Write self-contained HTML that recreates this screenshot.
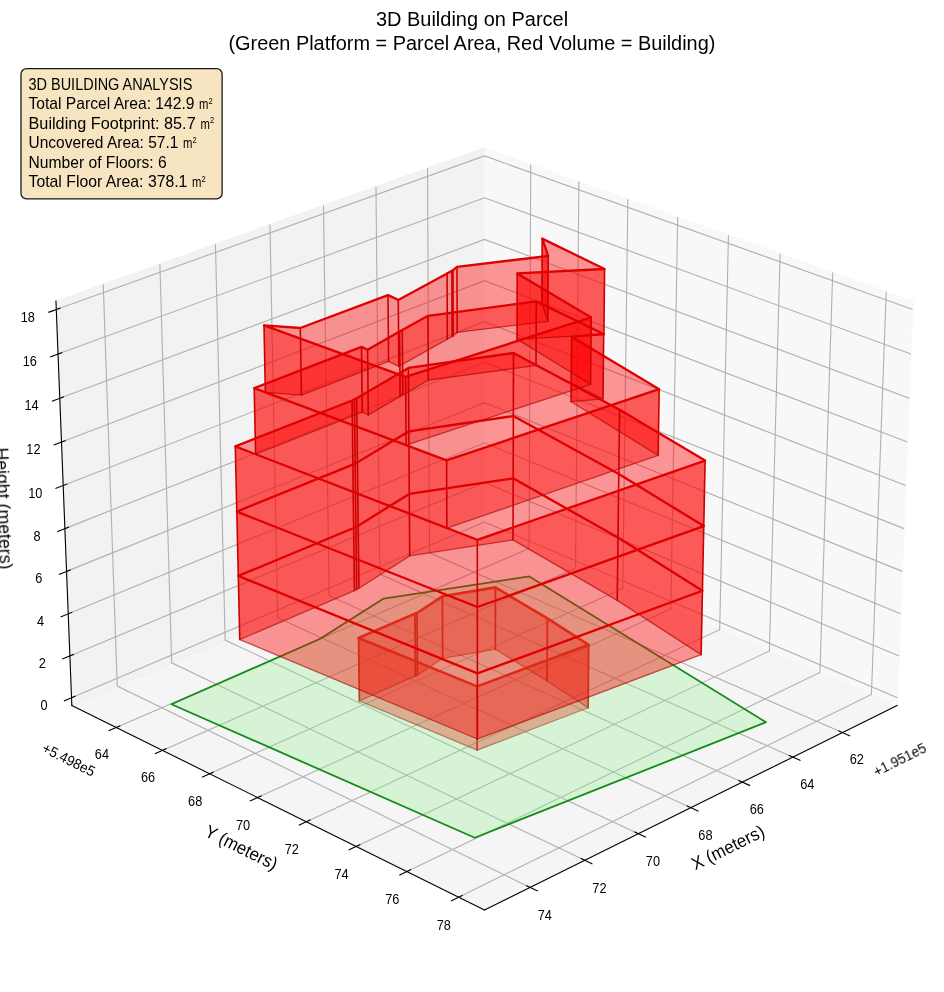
<!DOCTYPE html>
<html><head><meta charset="utf-8"><title>3D Building on Parcel</title>
<style>
html,body{margin:0;padding:0;background:#fff;}
body{width:944px;height:992px;overflow:hidden;font-family:"Liberation Sans",sans-serif;}
svg{display:block;}
</style></head><body>
<svg width="944" height="992" viewBox="0 0 944 992">
<rect x="0" y="0" width="944" height="992" fill="#fff"/>
<g id="axes">
<path d="M484.49 529.39 L897.14 705.45 L913.01 301.15 L484.49 147.97" fill="#f2f2f2" stroke="#f2f2f2" stroke-width="1.389" opacity="0.5" stroke-linejoin="miter"/>
<path d="M484.49 529.39 L71.83 705.45 L55.96 301.15 L484.49 147.97" fill="#e6e6e6" stroke="#e6e6e6" stroke-width="1.389" opacity="0.5" stroke-linejoin="miter"/>
<path d="M484.49 529.39 L71.83 705.45 L484.49 910.02 L897.14 705.45" fill="#ececec" stroke="#ececec" stroke-width="1.389" opacity="0.5" stroke-linejoin="miter"/>
<path d="M842.42 732.58 L429.50 552.85 L427.52 168.33" fill="none" stroke="#b0b0b0" stroke-width="1.111"/>
<path d="M792.88 757.14 L379.78 574.06 L375.97 186.76" fill="none" stroke="#b0b0b0" stroke-width="1.111"/>
<path d="M742.37 782.18 L329.17 595.66 L323.46 205.53" fill="none" stroke="#b0b0b0" stroke-width="1.111"/>
<path d="M690.87 807.71 L277.63 617.65 L269.96 224.65" fill="none" stroke="#b0b0b0" stroke-width="1.111"/>
<path d="M638.35 833.75 L225.15 640.04 L215.44 244.14" fill="none" stroke="#b0b0b0" stroke-width="1.111"/>
<path d="M584.77 860.30 L171.69 662.85 L159.87 264.00" fill="none" stroke="#b0b0b0" stroke-width="1.111"/>
<path d="M530.12 887.40 L117.24 686.08 L103.23 284.25" fill="none" stroke="#b0b0b0" stroke-width="1.111"/>
<path d="M530.71 164.49 L529.10 548.43 L116.22 727.46" fill="none" stroke="#b0b0b0" stroke-width="1.111"/>
<path d="M578.86 181.70 L575.55 568.24 L162.50 750.40" fill="none" stroke="#b0b0b0" stroke-width="1.111"/>
<path d="M627.85 199.21 L622.79 588.40 L209.61 773.76" fill="none" stroke="#b0b0b0" stroke-width="1.111"/>
<path d="M677.70 217.03 L670.82 608.89 L257.59 797.54" fill="none" stroke="#b0b0b0" stroke-width="1.111"/>
<path d="M728.45 235.17 L719.68 629.74 L306.46 821.76" fill="none" stroke="#b0b0b0" stroke-width="1.111"/>
<path d="M780.10 253.64 L769.39 650.95 L356.23 846.44" fill="none" stroke="#b0b0b0" stroke-width="1.111"/>
<path d="M832.69 272.43 L819.96 672.52 L406.95 871.58" fill="none" stroke="#b0b0b0" stroke-width="1.111"/>
<path d="M886.24 291.57 L871.42 694.48 L458.63 897.20" fill="none" stroke="#b0b0b0" stroke-width="1.111"/>
<path d="M71.52 697.66 L484.49 522.02 L897.45 697.66" fill="none" stroke="#b0b0b0" stroke-width="1.111"/>
<path d="M69.89 655.91 L484.49 482.54 L899.09 655.91" fill="none" stroke="#b0b0b0" stroke-width="1.111"/>
<path d="M68.23 613.82 L484.49 442.76 L900.74 613.82" fill="none" stroke="#b0b0b0" stroke-width="1.111"/>
<path d="M66.57 571.39 L484.49 402.69 L902.41 571.39" fill="none" stroke="#b0b0b0" stroke-width="1.111"/>
<path d="M64.89 528.63 L484.49 362.32 L904.08 528.63" fill="none" stroke="#b0b0b0" stroke-width="1.111"/>
<path d="M63.20 485.51 L484.49 321.65 L905.78 485.51" fill="none" stroke="#b0b0b0" stroke-width="1.111"/>
<path d="M61.49 442.05 L484.49 280.67 L907.48 442.05" fill="none" stroke="#b0b0b0" stroke-width="1.111"/>
<path d="M59.77 398.24 L484.49 239.38 L909.20 398.24" fill="none" stroke="#b0b0b0" stroke-width="1.111"/>
<path d="M58.04 354.07 L484.49 197.78 L910.94 354.07" fill="none" stroke="#b0b0b0" stroke-width="1.111"/>
<path d="M56.29 309.54 L484.49 155.86 L912.68 309.54" fill="none" stroke="#b0b0b0" stroke-width="1.111"/>
<path d="M897.14 705.45 L484.49 910.02" fill="none" stroke="#000000" stroke-width="1.111" stroke-linecap="square"/>
<path d="M838.87 731.03 L849.54 735.68" fill="none" stroke="#000000" stroke-width="1.111" stroke-linecap="square"/>
<path d="M789.32 755.57 L800.00 760.30" fill="none" stroke="#000000" stroke-width="1.111" stroke-linecap="square"/>
<path d="M738.81 780.57 L749.50 785.40" fill="none" stroke="#000000" stroke-width="1.111" stroke-linecap="square"/>
<path d="M687.30 806.07 L698.00 810.99" fill="none" stroke="#000000" stroke-width="1.111" stroke-linecap="square"/>
<path d="M634.78 832.08 L645.49 837.09" fill="none" stroke="#000000" stroke-width="1.111" stroke-linecap="square"/>
<path d="M581.21 858.60 L591.92 863.72" fill="none" stroke="#000000" stroke-width="1.111" stroke-linecap="square"/>
<path d="M526.56 885.66 L537.27 890.88" fill="none" stroke="#000000" stroke-width="1.111" stroke-linecap="square"/>
<path d="M71.83 705.45 L484.49 910.02" fill="none" stroke="#000000" stroke-width="1.111" stroke-linecap="square"/>
<path d="M119.77 725.92 L109.11 730.55" fill="none" stroke="#000000" stroke-width="1.111" stroke-linecap="square"/>
<path d="M166.05 748.83 L155.38 753.54" fill="none" stroke="#000000" stroke-width="1.111" stroke-linecap="square"/>
<path d="M213.17 772.16 L202.49 776.95" fill="none" stroke="#000000" stroke-width="1.111" stroke-linecap="square"/>
<path d="M261.15 795.92 L250.46 800.80" fill="none" stroke="#000000" stroke-width="1.111" stroke-linecap="square"/>
<path d="M310.02 820.11 L299.32 825.08" fill="none" stroke="#000000" stroke-width="1.111" stroke-linecap="square"/>
<path d="M359.80 844.75 L349.09 849.82" fill="none" stroke="#000000" stroke-width="1.111" stroke-linecap="square"/>
<path d="M410.52 869.86 L399.81 875.03" fill="none" stroke="#000000" stroke-width="1.111" stroke-linecap="square"/>
<path d="M462.20 895.45 L451.49 900.71" fill="none" stroke="#000000" stroke-width="1.111" stroke-linecap="square"/>
<path d="M71.83 705.45 L55.96 301.15" fill="none" stroke="#000000" stroke-width="1.111" stroke-linecap="square"/>
<path d="M75.07 696.15 L64.41 700.69" fill="none" stroke="#000000" stroke-width="1.111" stroke-linecap="square"/>
<path d="M73.45 654.42 L62.74 658.89" fill="none" stroke="#000000" stroke-width="1.111" stroke-linecap="square"/>
<path d="M71.81 612.35 L61.06 616.76" fill="none" stroke="#000000" stroke-width="1.111" stroke-linecap="square"/>
<path d="M70.16 569.94 L59.37 574.30" fill="none" stroke="#000000" stroke-width="1.111" stroke-linecap="square"/>
<path d="M68.50 527.19 L57.66 531.49" fill="none" stroke="#000000" stroke-width="1.111" stroke-linecap="square"/>
<path d="M66.82 484.10 L55.93 488.34" fill="none" stroke="#000000" stroke-width="1.111" stroke-linecap="square"/>
<path d="M65.13 440.67 L54.19 444.84" fill="none" stroke="#000000" stroke-width="1.111" stroke-linecap="square"/>
<path d="M63.43 396.87 L52.44 400.98" fill="none" stroke="#000000" stroke-width="1.111" stroke-linecap="square"/>
<path d="M61.71 352.72 L50.68 356.77" fill="none" stroke="#000000" stroke-width="1.111" stroke-linecap="square"/>
<path d="M59.98 308.21 L48.90 312.19" fill="none" stroke="#000000" stroke-width="1.111" stroke-linecap="square"/>
</g>
<g id="scene">
<g fill="rgb(255,0,0)" fill-opacity="0.4" stroke="none"><polygon points="359.35,700.82 415.41,675.94 415.00,613.60 358.60,638.00"/><polygon points="415.41,675.94 417.40,675.33 417.00,613.00 415.00,613.60"/><polygon points="417.40,675.33 442.65,658.30 442.40,596.30 417.00,613.00"/><polygon points="442.65,658.30 495.34,649.23 495.40,587.40 442.40,596.30"/><polygon points="495.34,649.23 547.03,680.84 547.40,618.40 495.40,587.40"/><polygon points="547.03,680.84 588.08,707.75 588.70,644.80 547.40,618.40"/><polygon points="588.08,707.75 477.14,750.15 477.10,686.40 588.70,644.80"/><polygon points="477.14,750.15 359.35,700.82 358.60,638.00 477.10,686.40"/></g>
<polygon points="359.35,700.82 415.41,675.94 417.40,675.33 442.65,658.30 495.34,649.23 547.03,680.84 588.08,707.75 477.14,750.15" fill="none" stroke="rgb(160,0,0)" stroke-opacity="0.6" stroke-width="1.3" stroke-linejoin="round"/>
<g stroke="rgb(204,0,0)" stroke-width="1.8" stroke-linecap="round"><line x1="359.35" y1="700.82" x2="358.60" y2="638.00"/><line x1="415.41" y1="675.94" x2="415.00" y2="613.60"/><line x1="417.40" y1="675.33" x2="417.00" y2="613.00"/><line x1="442.65" y1="658.30" x2="442.40" y2="596.30"/><line x1="495.34" y1="649.23" x2="495.40" y2="587.40"/><line x1="547.03" y1="680.84" x2="547.40" y2="618.40"/><line x1="588.08" y1="707.75" x2="588.70" y2="644.80"/><line x1="477.14" y1="750.15" x2="477.10" y2="686.40"/></g>
<polygon points="358.60,638.00 415.00,613.60 417.00,613.00 442.40,596.30 495.40,587.40 547.40,618.40 588.70,644.80 477.10,686.40" fill="none" stroke="rgb(225,0,0)" stroke-width="2.6" stroke-linejoin="round"/>
<polygon points="171.40,704.20 320.20,638.80 383.70,598.60 529.30,576.40 766.00,722.25 474.75,837.75" fill="rgb(144,238,144)" fill-opacity="0.3" stroke="none"/>
<polygon points="171.40,704.20 320.20,638.80 383.70,598.60 529.30,576.40 766.00,722.25 474.75,837.75" fill="none" stroke="rgb(20,140,26)" stroke-width="1.8" stroke-linejoin="round"/>
<g fill="rgb(255,0,0)" fill-opacity="0.4" stroke="none"><polygon points="239.77,639.53 354.43,590.60 353.66,527.98 238.30,575.93"/><polygon points="354.43,590.60 356.68,589.43 355.93,526.83 353.66,527.98"/><polygon points="356.68,589.43 358.94,588.26 358.20,525.68 355.93,526.83"/><polygon points="358.94,588.26 409.72,555.83 409.28,493.91 358.20,525.68"/><polygon points="409.72,555.83 513.00,539.93 513.17,478.34 409.28,493.91"/><polygon points="513.00,539.93 617.22,600.41 618.00,537.59 513.17,478.34"/><polygon points="617.22,600.41 701.12,654.67 702.43,590.76 618.00,537.59"/><polygon points="701.12,654.67 477.43,739.00 477.39,673.43 702.43,590.76"/><polygon points="477.43,739.00 239.77,639.53 238.30,575.93 477.39,673.43"/><polygon points="238.30,575.93 353.66,527.98 352.88,464.62 236.81,511.56"/><polygon points="353.66,527.98 355.93,526.83 355.17,463.49 352.88,464.62"/><polygon points="355.93,526.83 358.20,525.68 357.46,462.37 355.17,463.49"/><polygon points="358.20,525.68 409.28,493.91 408.84,431.27 357.46,462.37"/><polygon points="409.28,493.91 513.17,478.34 513.33,416.03 408.84,431.27"/><polygon points="513.17,478.34 618.00,537.59 618.80,474.03 513.33,416.03"/><polygon points="618.00,537.59 702.43,590.76 703.76,526.08 618.80,474.03"/><polygon points="702.43,590.76 477.39,673.43 477.35,607.03 703.76,526.08"/><polygon points="477.39,673.43 238.30,575.93 236.81,511.56 477.35,607.03"/><polygon points="236.81,511.56 352.88,464.62 352.10,400.50 235.30,446.40"/><polygon points="352.88,464.62 355.17,463.49 354.40,399.40 352.10,400.50"/><polygon points="355.17,463.49 357.46,462.37 356.70,398.30 354.40,399.40"/><polygon points="357.46,462.37 408.84,431.27 408.40,367.90 356.70,398.30"/><polygon points="408.84,431.27 513.33,416.03 513.50,353.00 408.40,367.90"/><polygon points="513.33,416.03 618.80,474.03 619.60,409.70 513.50,353.00"/><polygon points="618.80,474.03 703.76,526.08 705.10,460.60 619.60,409.70"/><polygon points="703.76,526.08 477.35,607.03 477.30,539.80 705.10,460.60"/><polygon points="477.35,607.03 236.81,511.56 235.30,446.40 477.30,539.80"/><polygon points="255.61,454.24 362.24,412.06 361.50,346.90 254.20,388.10"/><polygon points="362.24,412.06 368.30,415.03 367.60,349.80 361.50,346.90"/><polygon points="368.30,415.03 400.11,396.39 399.60,331.60 367.60,349.80"/><polygon points="400.11,396.39 402.79,394.86 402.30,330.10 399.60,331.60"/><polygon points="402.79,394.86 428.33,380.21 428.00,315.80 402.30,330.10"/><polygon points="428.33,380.21 536.00,365.47 536.30,301.40 428.00,315.80"/><polygon points="536.00,365.47 602.99,398.85 603.70,334.00 536.30,301.40"/><polygon points="602.99,398.85 571.08,401.72 571.60,336.80 603.70,334.00"/><polygon points="571.08,401.72 658.13,455.36 659.20,389.20 571.60,336.80"/><polygon points="658.13,455.36 446.84,528.23 446.60,460.40 659.20,389.20"/><polygon points="446.84,528.23 255.61,454.24 254.20,388.10 446.60,460.40"/><polygon points="265.36,392.46 301.44,395.12 300.30,328.00 264.00,325.40"/><polygon points="301.44,395.12 388.59,361.40 388.00,295.10 300.30,328.00"/><polygon points="388.59,361.40 398.82,366.32 398.30,299.90 388.00,295.10"/><polygon points="398.82,366.32 447.32,339.16 447.10,273.40 398.30,299.90"/><polygon points="447.32,339.16 452.10,336.39 451.90,270.70 447.10,273.40"/><polygon points="452.10,336.39 453.19,335.88 453.00,270.20 451.90,270.70"/><polygon points="453.19,335.88 457.16,332.39 457.00,266.80 453.00,270.20"/><polygon points="457.16,332.39 547.82,321.32 548.20,256.00 457.00,266.80"/><polygon points="547.82,321.32 541.86,303.48 542.20,238.60 548.20,256.00"/><polygon points="541.86,303.48 603.88,334.65 604.60,269.00 542.20,238.60"/><polygon points="603.88,334.65 517.00,339.16 517.20,273.40 604.60,269.00"/><polygon points="517.00,339.16 590.55,384.26 591.20,317.40 517.20,273.40"/><polygon points="590.55,384.26 406.10,445.23 405.60,376.90 591.20,317.40"/><polygon points="406.10,445.23 265.36,392.46 264.00,325.40 405.60,376.90"/></g>
<polygon points="239.77,639.53 354.43,590.60 356.68,589.43 358.94,588.26 409.72,555.83 513.00,539.93 617.22,600.41 701.12,654.67 477.43,739.00" fill="none" stroke="rgb(160,0,0)" stroke-opacity="0.6" stroke-width="1.3" stroke-linejoin="round"/>
<polygon points="238.30,575.93 353.66,527.98 355.93,526.83 358.20,525.68 409.28,493.91 513.17,478.34 618.00,537.59 702.43,590.76 477.39,673.43" fill="none" stroke="rgb(160,0,0)" stroke-opacity="0.6" stroke-width="1.3" stroke-linejoin="round"/>
<polygon points="236.81,511.56 352.88,464.62 355.17,463.49 357.46,462.37 408.84,431.27 513.33,416.03 618.80,474.03 703.76,526.08 477.35,607.03" fill="none" stroke="rgb(160,0,0)" stroke-opacity="0.6" stroke-width="1.3" stroke-linejoin="round"/>
<polygon points="255.61,454.24 362.24,412.06 368.30,415.03 400.11,396.39 402.79,394.86 428.33,380.21 536.00,365.47 602.99,398.85 571.08,401.72 658.13,455.36 446.84,528.23" fill="none" stroke="rgb(160,0,0)" stroke-opacity="0.6" stroke-width="1.3" stroke-linejoin="round"/>
<polygon points="265.36,392.46 301.44,395.12 388.59,361.40 398.82,366.32 447.32,339.16 452.10,336.39 453.19,335.88 457.16,332.39 547.82,321.32 541.86,303.48 603.88,334.65 517.00,339.16 590.55,384.26 406.10,445.23" fill="none" stroke="rgb(160,0,0)" stroke-opacity="0.6" stroke-width="1.3" stroke-linejoin="round"/>
<g stroke="rgb(204,0,0)" stroke-width="1.6" stroke-linecap="round"><line x1="239.77" y1="639.53" x2="238.30" y2="575.93"/><line x1="354.43" y1="590.60" x2="353.66" y2="527.98"/><line x1="356.68" y1="589.43" x2="355.93" y2="526.83"/><line x1="358.94" y1="588.26" x2="358.20" y2="525.68"/><line x1="409.72" y1="555.83" x2="409.28" y2="493.91"/><line x1="513.00" y1="539.93" x2="513.17" y2="478.34"/><line x1="617.22" y1="600.41" x2="618.00" y2="537.59"/><line x1="701.12" y1="654.67" x2="702.43" y2="590.76"/><line x1="477.43" y1="739.00" x2="477.39" y2="673.43"/><line x1="238.30" y1="575.93" x2="236.81" y2="511.56"/><line x1="353.66" y1="527.98" x2="352.88" y2="464.62"/><line x1="355.93" y1="526.83" x2="355.17" y2="463.49"/><line x1="358.20" y1="525.68" x2="357.46" y2="462.37"/><line x1="409.28" y1="493.91" x2="408.84" y2="431.27"/><line x1="513.17" y1="478.34" x2="513.33" y2="416.03"/><line x1="618.00" y1="537.59" x2="618.80" y2="474.03"/><line x1="702.43" y1="590.76" x2="703.76" y2="526.08"/><line x1="477.39" y1="673.43" x2="477.35" y2="607.03"/><line x1="236.81" y1="511.56" x2="235.30" y2="446.40"/><line x1="352.88" y1="464.62" x2="352.10" y2="400.50"/><line x1="355.17" y1="463.49" x2="354.40" y2="399.40"/><line x1="357.46" y1="462.37" x2="356.70" y2="398.30"/><line x1="408.84" y1="431.27" x2="408.40" y2="367.90"/><line x1="513.33" y1="416.03" x2="513.50" y2="353.00"/><line x1="618.80" y1="474.03" x2="619.60" y2="409.70"/><line x1="703.76" y1="526.08" x2="705.10" y2="460.60"/><line x1="477.35" y1="607.03" x2="477.30" y2="539.80"/><line x1="255.61" y1="454.24" x2="254.20" y2="388.10"/><line x1="362.24" y1="412.06" x2="361.50" y2="346.90"/><line x1="368.30" y1="415.03" x2="367.60" y2="349.80"/><line x1="400.11" y1="396.39" x2="399.60" y2="331.60"/><line x1="402.79" y1="394.86" x2="402.30" y2="330.10"/><line x1="428.33" y1="380.21" x2="428.00" y2="315.80"/><line x1="536.00" y1="365.47" x2="536.30" y2="301.40"/><line x1="602.99" y1="398.85" x2="603.70" y2="334.00"/><line x1="571.08" y1="401.72" x2="571.60" y2="336.80"/><line x1="658.13" y1="455.36" x2="659.20" y2="389.20"/><line x1="446.84" y1="528.23" x2="446.60" y2="460.40"/><line x1="265.36" y1="392.46" x2="264.00" y2="325.40"/><line x1="301.44" y1="395.12" x2="300.30" y2="328.00"/><line x1="388.59" y1="361.40" x2="388.00" y2="295.10"/><line x1="398.82" y1="366.32" x2="398.30" y2="299.90"/><line x1="447.32" y1="339.16" x2="447.10" y2="273.40"/><line x1="452.10" y1="336.39" x2="451.90" y2="270.70"/><line x1="453.19" y1="335.88" x2="453.00" y2="270.20"/><line x1="457.16" y1="332.39" x2="457.00" y2="266.80"/><line x1="547.82" y1="321.32" x2="548.20" y2="256.00"/><line x1="541.86" y1="303.48" x2="542.20" y2="238.60"/><line x1="603.88" y1="334.65" x2="604.60" y2="269.00"/><line x1="517.00" y1="339.16" x2="517.20" y2="273.40"/><line x1="590.55" y1="384.26" x2="591.20" y2="317.40"/><line x1="406.10" y1="445.23" x2="405.60" y2="376.90"/></g>
<polygon points="238.30,575.93 353.66,527.98 355.93,526.83 358.20,525.68 409.28,493.91 513.17,478.34 618.00,537.59 702.43,590.76 477.39,673.43" fill="none" stroke="rgb(225,0,0)" stroke-width="2.3" stroke-linejoin="round"/>
<polygon points="236.81,511.56 352.88,464.62 355.17,463.49 357.46,462.37 408.84,431.27 513.33,416.03 618.80,474.03 703.76,526.08 477.35,607.03" fill="none" stroke="rgb(225,0,0)" stroke-width="2.3" stroke-linejoin="round"/>
<polygon points="235.30,446.40 352.10,400.50 354.40,399.40 356.70,398.30 408.40,367.90 513.50,353.00 619.60,409.70 705.10,460.60 477.30,539.80" fill="none" stroke="rgb(225,0,0)" stroke-width="2.3" stroke-linejoin="round"/>
<polygon points="254.20,388.10 361.50,346.90 367.60,349.80 399.60,331.60 402.30,330.10 428.00,315.80 536.30,301.40 603.70,334.00 571.60,336.80 659.20,389.20 446.60,460.40" fill="none" stroke="rgb(225,0,0)" stroke-width="2.3" stroke-linejoin="round"/>
<polygon points="264.00,325.40 300.30,328.00 388.00,295.10 398.30,299.90 447.10,273.40 451.90,270.70 453.00,270.20 457.00,266.80 548.20,256.00 542.20,238.60 604.60,269.00 517.20,273.40 591.20,317.40 405.60,376.90" fill="none" stroke="rgb(225,0,0)" stroke-width="2.3" stroke-linejoin="round"/>
</g>
<g id="labels" opacity="0.999">
<text x="472.00" y="25.60" font-size="19.60" text-anchor="middle" font-family="Liberation Sans, sans-serif" fill="#000" textLength="192.20" lengthAdjust="spacingAndGlyphs" >3D Building on Parcel</text>
<text x="471.90" y="49.60" font-size="19.60" text-anchor="middle" font-family="Liberation Sans, sans-serif" fill="#000" textLength="487.00" lengthAdjust="spacingAndGlyphs" >(Green Platform = Parcel Area, Red Volume = Building)</text>
<text x="856.74" y="764.04" font-size="13.90" text-anchor="middle" font-family="Liberation Sans, sans-serif" fill="#000" textLength="14.20" lengthAdjust="spacingAndGlyphs" >62</text>
<text x="807.27" y="788.82" font-size="13.90" text-anchor="middle" font-family="Liberation Sans, sans-serif" fill="#000" textLength="14.20" lengthAdjust="spacingAndGlyphs" >64</text>
<text x="756.83" y="814.08" font-size="13.90" text-anchor="middle" font-family="Liberation Sans, sans-serif" fill="#000" textLength="14.20" lengthAdjust="spacingAndGlyphs" >66</text>
<text x="705.40" y="839.84" font-size="13.90" text-anchor="middle" font-family="Liberation Sans, sans-serif" fill="#000" textLength="14.20" lengthAdjust="spacingAndGlyphs" >68</text>
<text x="652.96" y="866.11" font-size="13.90" text-anchor="middle" font-family="Liberation Sans, sans-serif" fill="#000" textLength="14.20" lengthAdjust="spacingAndGlyphs" >70</text>
<text x="599.46" y="892.91" font-size="13.90" text-anchor="middle" font-family="Liberation Sans, sans-serif" fill="#000" textLength="14.20" lengthAdjust="spacingAndGlyphs" >72</text>
<text x="544.88" y="920.25" font-size="13.90" text-anchor="middle" font-family="Liberation Sans, sans-serif" fill="#000" textLength="14.20" lengthAdjust="spacingAndGlyphs" >74</text>
<text x="101.92" y="758.87" font-size="13.90" text-anchor="middle" font-family="Liberation Sans, sans-serif" fill="#000" textLength="14.20" lengthAdjust="spacingAndGlyphs" >64</text>
<text x="148.13" y="782.02" font-size="13.90" text-anchor="middle" font-family="Liberation Sans, sans-serif" fill="#000" textLength="14.20" lengthAdjust="spacingAndGlyphs" >66</text>
<text x="195.17" y="805.58" font-size="13.90" text-anchor="middle" font-family="Liberation Sans, sans-serif" fill="#000" textLength="14.20" lengthAdjust="spacingAndGlyphs" >68</text>
<text x="243.08" y="829.58" font-size="13.90" text-anchor="middle" font-family="Liberation Sans, sans-serif" fill="#000" textLength="14.20" lengthAdjust="spacingAndGlyphs" >70</text>
<text x="291.88" y="854.02" font-size="13.90" text-anchor="middle" font-family="Liberation Sans, sans-serif" fill="#000" textLength="14.20" lengthAdjust="spacingAndGlyphs" >72</text>
<text x="341.59" y="878.92" font-size="13.90" text-anchor="middle" font-family="Liberation Sans, sans-serif" fill="#000" textLength="14.20" lengthAdjust="spacingAndGlyphs" >74</text>
<text x="392.23" y="904.29" font-size="13.90" text-anchor="middle" font-family="Liberation Sans, sans-serif" fill="#000" textLength="14.20" lengthAdjust="spacingAndGlyphs" >76</text>
<text x="443.84" y="930.14" font-size="13.90" text-anchor="middle" font-family="Liberation Sans, sans-serif" fill="#000" textLength="14.20" lengthAdjust="spacingAndGlyphs" >78</text>
<text x="44.11" y="709.65" font-size="13.90" text-anchor="middle" font-family="Liberation Sans, sans-serif" fill="#000" textLength="7.10" lengthAdjust="spacingAndGlyphs" >0</text>
<text x="42.36" y="667.90" font-size="13.90" text-anchor="middle" font-family="Liberation Sans, sans-serif" fill="#000" textLength="7.10" lengthAdjust="spacingAndGlyphs" >2</text>
<text x="40.60" y="625.81" font-size="13.90" text-anchor="middle" font-family="Liberation Sans, sans-serif" fill="#000" textLength="7.10" lengthAdjust="spacingAndGlyphs" >4</text>
<text x="38.83" y="583.38" font-size="13.90" text-anchor="middle" font-family="Liberation Sans, sans-serif" fill="#000" textLength="7.10" lengthAdjust="spacingAndGlyphs" >6</text>
<text x="37.04" y="540.62" font-size="13.90" text-anchor="middle" font-family="Liberation Sans, sans-serif" fill="#000" textLength="7.10" lengthAdjust="spacingAndGlyphs" >8</text>
<text x="35.23" y="497.51" font-size="13.90" text-anchor="middle" font-family="Liberation Sans, sans-serif" fill="#000" textLength="14.20" lengthAdjust="spacingAndGlyphs" >10</text>
<text x="33.41" y="454.05" font-size="13.90" text-anchor="middle" font-family="Liberation Sans, sans-serif" fill="#000" textLength="14.20" lengthAdjust="spacingAndGlyphs" >12</text>
<text x="31.58" y="410.23" font-size="13.90" text-anchor="middle" font-family="Liberation Sans, sans-serif" fill="#000" textLength="14.20" lengthAdjust="spacingAndGlyphs" >14</text>
<text x="29.73" y="366.06" font-size="13.90" text-anchor="middle" font-family="Liberation Sans, sans-serif" fill="#000" textLength="14.20" lengthAdjust="spacingAndGlyphs" >16</text>
<text x="27.87" y="321.53" font-size="13.90" text-anchor="middle" font-family="Liberation Sans, sans-serif" fill="#000" textLength="14.20" lengthAdjust="spacingAndGlyphs" >18</text>
<text x="730.60" y="853.00" font-size="18.00" text-anchor="middle" font-family="Liberation Sans, sans-serif" fill="#000" textLength="79.00" lengthAdjust="spacingAndGlyphs" transform="rotate(-26.37 730.60 853.00)" >X (meters)</text>
<text x="238.60" y="853.00" font-size="18.00" text-anchor="middle" font-family="Liberation Sans, sans-serif" fill="#000" textLength="78.50" lengthAdjust="spacingAndGlyphs" transform="rotate(26.37 238.60 853.00)" >Y (meters)</text>
<text x="4.20" y="508.50" font-size="18.00" text-anchor="middle" font-family="Liberation Sans, sans-serif" fill="#000" textLength="122.00" lengthAdjust="spacingAndGlyphs" transform="rotate(87.75 4.20 508.50)" dominant-baseline="central">Height (meters)</text>
<text x="902.00" y="764.20" font-size="14.50" text-anchor="middle" font-family="Liberation Sans, sans-serif" fill="#000" textLength="57.00" lengthAdjust="spacingAndGlyphs" transform="rotate(-26.37 902.00 764.20)" >+1.951e5</text>
<text x="66.60" y="764.20" font-size="14.50" text-anchor="middle" font-family="Liberation Sans, sans-serif" fill="#000" textLength="57.00" lengthAdjust="spacingAndGlyphs" transform="rotate(26.37 66.60 764.20)" >+5.498e5</text>
</g>
<g id="info" opacity="0.999">
<rect x="21.0" y="68.6" width="201.1" height="130.3" rx="5.5" ry="5.5" fill="rgb(247,228,193)" stroke="#1a1a1a" stroke-width="1.3"/>
<text x="28.5" y="89.5" font-size="16.6" font-family="Liberation Sans, sans-serif" fill="#000" textLength="163.8" lengthAdjust="spacingAndGlyphs">3D BUILDING ANALYSIS</text>
<text x="28.5" y="109.2" font-size="16.6" font-family="Liberation Sans, sans-serif" fill="#000" textLength="170.3" lengthAdjust="spacingAndGlyphs" xml:space="preserve">Total Parcel Area: 142.9 </text>
<text x="199.1" y="109.2" font-size="15.2" font-family="Liberation Sans, sans-serif" fill="#000" textLength="9.4" lengthAdjust="spacingAndGlyphs">m</text>
<text x="208.6" y="103.8" font-size="8.2" font-family="Liberation Sans, sans-serif" fill="#000" textLength="4.2" lengthAdjust="spacingAndGlyphs">2</text>
<text x="28.5" y="128.5" font-size="16.6" font-family="Liberation Sans, sans-serif" fill="#000" textLength="171.7" lengthAdjust="spacingAndGlyphs" xml:space="preserve">Building Footprint: 85.7 </text>
<text x="200.5" y="128.5" font-size="15.2" font-family="Liberation Sans, sans-serif" fill="#000" textLength="9.4" lengthAdjust="spacingAndGlyphs">m</text>
<text x="210.0" y="123.1" font-size="8.2" font-family="Liberation Sans, sans-serif" fill="#000" textLength="4.2" lengthAdjust="spacingAndGlyphs">2</text>
<text x="28.5" y="148.1" font-size="16.6" font-family="Liberation Sans, sans-serif" fill="#000" textLength="154.2" lengthAdjust="spacingAndGlyphs" xml:space="preserve">Uncovered Area: 57.1 </text>
<text x="183.0" y="148.1" font-size="15.2" font-family="Liberation Sans, sans-serif" fill="#000" textLength="9.4" lengthAdjust="spacingAndGlyphs">m</text>
<text x="192.5" y="142.7" font-size="8.2" font-family="Liberation Sans, sans-serif" fill="#000" textLength="4.2" lengthAdjust="spacingAndGlyphs">2</text>
<text x="28.5" y="167.8" font-size="16.6" font-family="Liberation Sans, sans-serif" fill="#000" textLength="138.2" lengthAdjust="spacingAndGlyphs">Number of Floors: 6</text>
<text x="28.5" y="187.2" font-size="16.6" font-family="Liberation Sans, sans-serif" fill="#000" textLength="163.3" lengthAdjust="spacingAndGlyphs" xml:space="preserve">Total Floor Area: 378.1 </text>
<text x="192.1" y="187.2" font-size="15.2" font-family="Liberation Sans, sans-serif" fill="#000" textLength="9.4" lengthAdjust="spacingAndGlyphs">m</text>
<text x="201.6" y="181.8" font-size="8.2" font-family="Liberation Sans, sans-serif" fill="#000" textLength="4.2" lengthAdjust="spacingAndGlyphs">2</text>
</g>
</svg>
</body></html>
